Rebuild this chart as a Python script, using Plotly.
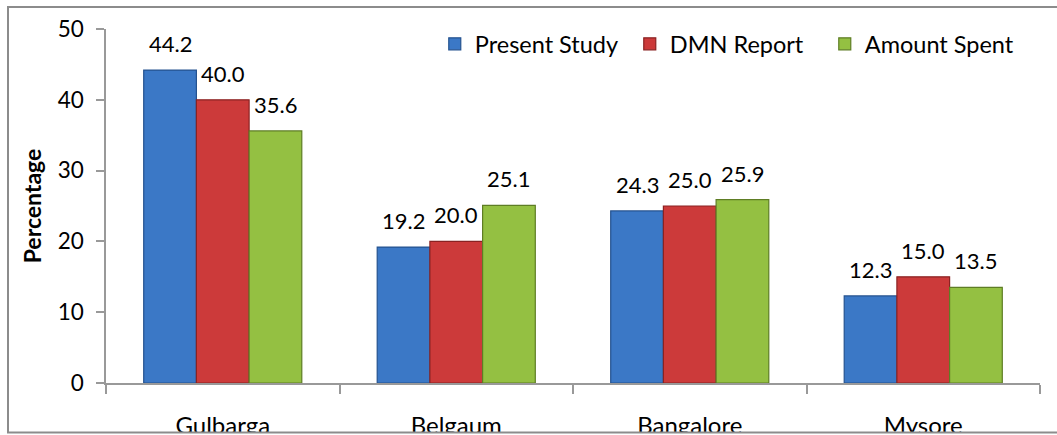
import plotly.graph_objects as go

# District-wise share (%) from three sources
districts = ["Gulbarga", "Belgaum", "Bangalore", "Mysore"]
present_study = [44.2, 19.2, 24.3, 12.3]
dmn_report = [40.0, 20.0, 25.0, 15.0]
amount_spent = [35.6, 25.1, 25.9, 13.5]

series = [
    ("Present Study", present_study, "#3B78C6", "#24528f"),
    ("DMN Report", dmn_report, "#CC3A3A", "#8a2222"),
    ("Amount Spent", amount_spent, "#94C042", "#5e7d24"),
]

FONT = "Lato"
W, H = 1057, 435
ML, MR, MT, MB = 106, 17, 29, 52
BARGAP = 0.323
plot_w = W - ML - MR
plot_h = H - MT - MB

fig = go.Figure()
for name, vals, color, edge in series:
    fig.add_trace(go.Bar(
        x=districts, y=vals, name=name,
        marker=dict(color=color, line=dict(color=edge, width=1.2)),
    ))

# value labels above each bar, offset horizontally to sit over its bar
bar_w = plot_w / len(districts) * (1 - BARGAP) / len(series)
for i, (name, vals, color, edge) in enumerate(series):
    for d, v in zip(districts, vals):
        fig.add_annotation(
            x=d, y=v, text=f"{v:.1f}", showarrow=False,
            xshift=(i - 1) * bar_w, yshift=11, yanchor="bottom",
            font=dict(family=FONT, size=22, color="black"),
        )

fig.update_layout(
    width=W, height=H,
    margin=dict(l=ML, r=MR, t=MT, b=MB, autoexpand=False),
    barmode="group", bargap=BARGAP, bargroupgap=0,
    plot_bgcolor="white", paper_bgcolor="white",
    font=dict(family=FONT, size=22, color="black"),
    showlegend=True,
    legend=dict(
        orientation="h", x=0.352, y=(plot_h - 15) / plot_h,
        xanchor="left", yanchor="middle",
        entrywidth=150, entrywidthmode="pixels",
        font=dict(family=FONT, size=23.5, color="black"),
        bgcolor="rgba(0,0,0,0)",
    ),
    xaxis=dict(
        automargin=False,
        showline=True, linecolor="#999999", linewidth=1.5,
        ticks="outside", ticklen=9, tickcolor="#999999", tickwidth=1.5,
        tickson="boundaries", ticklabelstandoff=20,
        tickfont=dict(family=FONT, size=24),
    ),
    yaxis=dict(
        automargin=False,
        range=[0, 50], dtick=10,
        showline=True, linecolor="#999999", linewidth=1.5,
        ticks="outside", ticklen=8, tickcolor="#999999", tickwidth=1.5,
        ticklabelstandoff=8,
        showgrid=False, zeroline=False,
        tickfont=dict(family=FONT, size=22.5),
        title=dict(text="<b>Percentage</b>", standoff=10,
                   font=dict(family=FONT, size=23)),
    ),
)

# white band below the frame so the category labels are cut at its edge
fig.add_shape(
    type="rect", xref="paper", yref="paper", layer="above",
    x0=-ML / plot_w, x1=1 + MR / plot_w,
    y0=-(MB + 5) / plot_h, y1=-(432 - (H - MB)) / plot_h,
    fillcolor="white", line=dict(width=0),
)
# chart frame (open on the right side)
fig.add_shape(
    type="rect", xref="paper", yref="paper", layer="above",
    x0=(8 - ML) / plot_w, x1=(1070 - ML) / plot_w,
    y0=-(432.5 - (H - MB)) / plot_h, y1=(H - MB - 7) / plot_h,
    line=dict(color="#8c8c8c", width=2), fillcolor="rgba(0,0,0,0)",
)

fig.write_html("out.html")
